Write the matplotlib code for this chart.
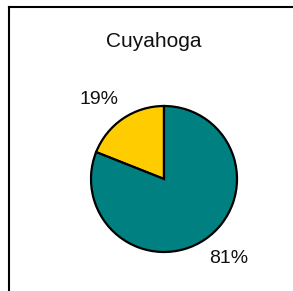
import numpy as np
import matplotlib
matplotlib.use('Agg')
import matplotlib.pyplot as plt
from matplotlib.lines import Line2D

title = 'Cuyahoga'
shares = [19, 81]
colors = ['#FFCC00', '#008080']

W, H = 293, 291
plt.rcParams['font.family'] = ['Liberation Sans', 'DejaVu Sans']

fig = plt.figure(figsize=(W / 100, H / 100), dpi=100)

# pie centre at (164, 179) px, radius 73 px
cx, cy, r = 164, 179, 73
ax = fig.add_axes([(cx - r) / W, (H - cy - r) / H, 2 * r / W, 2 * r / H])
wedges, texts = ax.pie(shares, colors=colors, startangle=90, counterclock=True,
                       wedgeprops=dict(edgecolor='black', linewidth=1.6),
                       labels=['%d%%' % s for s in shares], labeldistance=1.41,
                       textprops=dict(fontsize=14, color='#111111'))
# labels sit a little counter-clockwise of the wedge middle
for w, t in zip(wedges, texts):
    ang = np.deg2rad((w.theta1 + w.theta2) / 2 + 5)
    t.set_position((1.41 * np.cos(ang), 1.41 * np.sin(ang)))
    t.set_ha('center')
    t.set_va('center')
ax.set_xlim(-1, 1)
ax.set_ylim(-1, 1)
ax.set_aspect('equal')
ax.axis('off')

fig.text(154 / W, 1 - 42 / H, title, ha='center', va='center', fontsize=15,
         color='#111111')

# frame lines (top and left only)
fig.add_artist(Line2D([9 / W, 1], [1 - 7 / H, 1 - 7 / H], color='black', lw=1.5,
                      transform=fig.transFigure))
fig.add_artist(Line2D([9 / W, 9 / W], [0, 1 - 7 / H], color='black', lw=1.5,
                      transform=fig.transFigure))

fig.savefig('out.png', dpi=100)
